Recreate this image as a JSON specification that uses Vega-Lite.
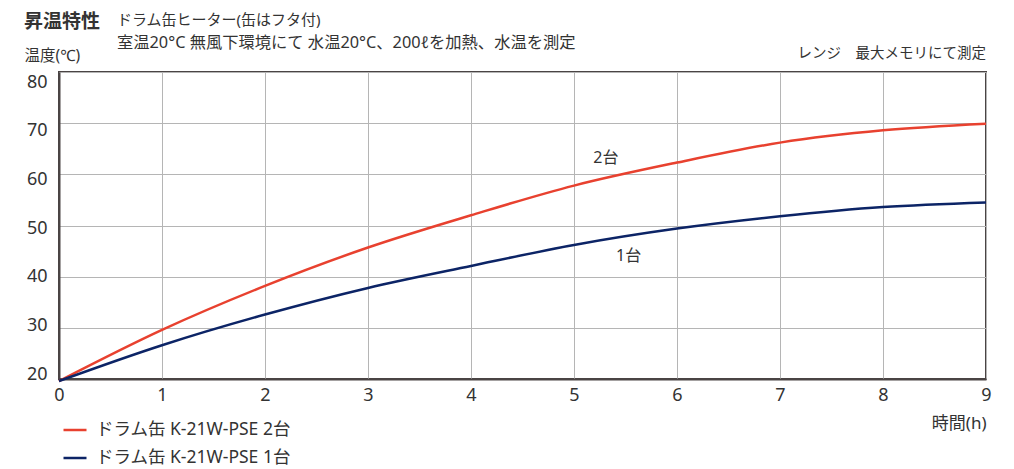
{
  "$schema": "https://vega.github.io/schema/vega-lite/v6.json",
  "width": 927,
  "height": 307,
  "autosize": {"type": "none"},
  "padding": {"left": 59, "top": 72, "right": 28, "bottom": 90},
  "background": "white",
  "config": {
    "font": "Noto Sans, Noto Sans CJK JP",
    "view": {"stroke": "#4a4444", "strokeWidth": 2},
    "axis": {"labelFont": "Noto Sans, Noto Sans CJK JP", "titleFont": "Noto Sans, Noto Sans CJK JP"},
    "legend": {"labelFont": "Noto Sans, Noto Sans CJK JP"}
  },
  "layer": [
    {
      "data": {
        "values": [
          {"h": 0, "t": 19.6, "s": "ドラム缶 K-21W-PSE 2台"},
          {"h": 1, "t": 29.6, "s": "ドラム缶 K-21W-PSE 2台"},
          {"h": 2, "t": 38.2, "s": "ドラム缶 K-21W-PSE 2台"},
          {"h": 3, "t": 45.7, "s": "ドラム缶 K-21W-PSE 2台"},
          {"h": 4, "t": 52.0, "s": "ドラム缶 K-21W-PSE 2台"},
          {"h": 5, "t": 57.8, "s": "ドラム缶 K-21W-PSE 2台"},
          {"h": 6, "t": 62.3, "s": "ドラム缶 K-21W-PSE 2台"},
          {"h": 7, "t": 66.2, "s": "ドラム缶 K-21W-PSE 2台"},
          {"h": 8, "t": 68.6, "s": "ドラム缶 K-21W-PSE 2台"},
          {"h": 9, "t": 69.9, "s": "ドラム缶 K-21W-PSE 2台"},
          {"h": 0, "t": 19.6, "s": "ドラム缶 K-21W-PSE 1台"},
          {"h": 1, "t": 26.6, "s": "ドラム缶 K-21W-PSE 1台"},
          {"h": 2, "t": 32.6, "s": "ドラム缶 K-21W-PSE 1台"},
          {"h": 3, "t": 37.8, "s": "ドラム缶 K-21W-PSE 1台"},
          {"h": 4, "t": 42.1, "s": "ドラム缶 K-21W-PSE 1台"},
          {"h": 5, "t": 46.2, "s": "ドラム缶 K-21W-PSE 1台"},
          {"h": 6, "t": 49.4, "s": "ドラム缶 K-21W-PSE 1台"},
          {"h": 7, "t": 51.8, "s": "ドラム缶 K-21W-PSE 1台"},
          {"h": 8, "t": 53.6, "s": "ドラム缶 K-21W-PSE 1台"},
          {"h": 9, "t": 54.5, "s": "ドラム缶 K-21W-PSE 1台"}
        ]
      },
      "mark": {"type": "line", "interpolate": "monotone", "strokeWidth": 2.5, "clip": false},
      "encoding": {
        "x": {
          "field": "h", "type": "quantitative",
          "scale": {"domain": [0, 9], "nice": false, "zero": false},
          "axis": {
            "values": [0, 1, 2, 3, 4, 5, 6, 7, 8, 9], "format": "d", "labelFlush": false,
            "grid": true, "gridColor": "#b5b5b5", "gridWidth": 1,
            "ticks": false, "domainColor": "#4a4444", "domainWidth": 2,
            "labelFontSize": 18, "labelFontWeight": 400, "labelColor": "#333333", "labelPadding": 7,
            "title": "時間(h)", "titleFontSize": 17, "titleFontWeight": 400, "titleColor": "#333333",
            "titleX": 927, "titleY": 44, "titleAlign": "right", "titleBaseline": "middle"
          }
        },
        "y": {
          "field": "t", "type": "quantitative",
          "scale": {"domain": [20, 80], "nice": false, "zero": false},
          "axis": {
            "values": [20, 30, 40, 50, 60, 70, 80], "format": "d", "labelFlush": false,
            "grid": true, "gridColor": "#b5b5b5", "gridWidth": 1,
            "ticks": false, "domainColor": "#4a4444", "domainWidth": 2,
            "labelFontSize": 18, "labelFontWeight": 400, "labelColor": "#333333", "labelPadding": 12,
            "labelOffset": {"expr": "(datum.value - 40) * 0.25"},
            "title": "温度(℃)", "titleFontSize": 15.5, "titleFontWeight": 400, "titleColor": "#333333",
            "titleAngle": 0, "titleX": -35, "titleY": -17, "titleAlign": "left", "titleBaseline": "middle"
          }
        },
        "color": {
          "field": "s", "type": "nominal",
          "scale": {"domain": ["ドラム缶 K-21W-PSE 2台", "ドラム缶 K-21W-PSE 1台"], "range": ["#e8412f", "#0c2466"]},
          "legend": {
            "title": null, "orient": "none", "legendX": 3, "legendY": 345,
            "symbolType": "stroke", "symbolSize": 529, "symbolStrokeWidth": 2.5,
            "labelFontSize": 17.5, "labelFontWeight": 400, "labelColor": "#333333", "labelOffset": 8, "labelLimit": 400,
            "rowPadding": 6, "direction": "vertical"
          }
        }
      }
    },
    {
      "data": {"values": [{}]},
      "mark": {"type": "text", "fontSize": 16, "color": "#333333", "align": "center", "baseline": "middle"},
      "encoding": {"x": {"datum": 5.31}, "y": {"datum": 63.2}, "text": {"value": "2台"}}
    },
    {
      "data": {"values": [{}]},
      "mark": {"type": "text", "fontSize": 16, "color": "#333333", "align": "center", "baseline": "middle"},
      "encoding": {"x": {"datum": 5.53}, "y": {"datum": 44.0}, "text": {"value": "1台"}}
    },
    {
      "data": {"values": [{}]},
      "mark": {"type": "text", "fontSize": 19, "fontWeight": "bold", "color": "#333333", "align": "left", "baseline": "middle", "clip": false},
      "encoding": {"x": {"datum": -0.34}, "y": {"datum": 89.7}, "text": {"value": "昇温特性"}}
    },
    {
      "data": {"values": [{}]},
      "mark": {"type": "text", "fontSize": 15, "color": "#333333", "align": "left", "baseline": "middle", "clip": false},
      "encoding": {"x": {"datum": 0.563}, "y": {"datum": 90.1}, "text": {"value": "ドラム缶ヒーター(缶はフタ付)"}}
    },
    {
      "data": {"values": [{}]},
      "mark": {"type": "text", "fontSize": 16.3, "color": "#333333", "align": "left", "baseline": "middle", "clip": false},
      "encoding": {"x": {"datum": 0.563}, "y": {"datum": 85.6}, "text": {"value": "室温20°C 無風下環境にて 水温20°C、200ℓを加熱、水温を測定"}}
    },
    {
      "data": {"values": [{}]},
      "mark": {"type": "text", "fontSize": 14.5, "color": "#333333", "align": "right", "baseline": "middle", "clip": false},
      "encoding": {"x": {"datum": 9}, "y": {"datum": 83.5}, "text": {"value": "レンジ　最大メモリにて測定"}}
    }
  ]
}
